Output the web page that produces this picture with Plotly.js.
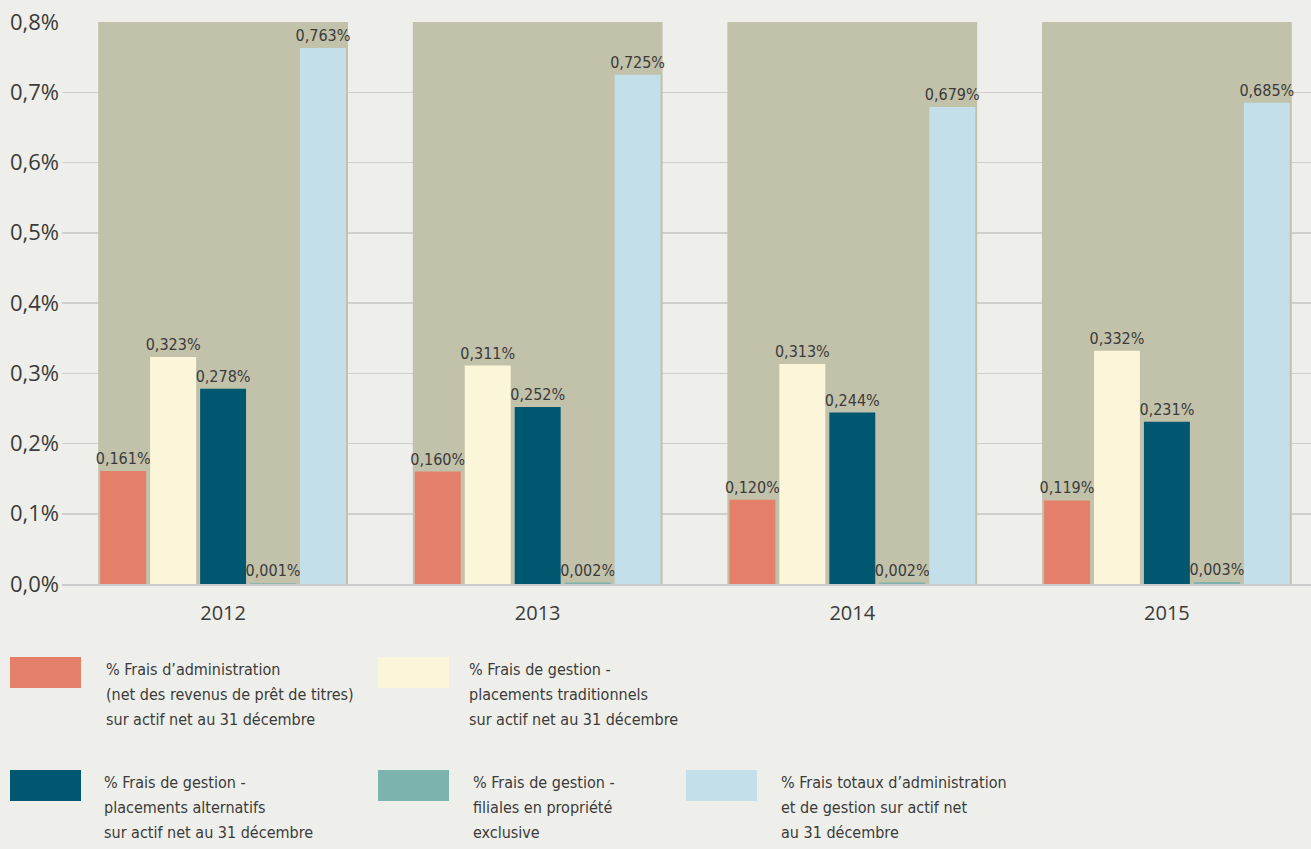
<!DOCTYPE html>
<html>
<head>
<meta charset="utf-8">
<script src="https://cdn.plot.ly/plotly-3.0.1.min.js"></script>
<style>
  html, body { margin: 0; padding: 0; background: #eeeeea; }
  #chart { width: 1311px; height: 849px; }
</style>
</head>
<body>
<div id="chart"></div>
<script>
// ---- data -------------------------------------------------------------------
const YEARS = ['2012', '2013', '2014', '2015'];
const ADMIN = [0.161, 0.160, 0.120, 0.119];      // frais d'administration
const TRAD = [0.323, 0.311, 0.313, 0.332];       // gestion - placements traditionnels
const ALT = [0.278, 0.252, 0.244, 0.231];        // gestion - placements alternatifs
const FILIALES = [0.001, 0.002, 0.002, 0.003];   // gestion - filiales
const TOTAL = [0.763, 0.725, 0.679, 0.685];      // frais totaux
const SERIES = [ADMIN, TRAD, ALT, FILIALES, TOTAL];

const NAMES = [
  '% Frais d’administration<br>(net des revenus de prêt de titres)<br>sur actif net au 31 décembre',
  '% Frais de gestion -<br>placements traditionnels<br>sur actif net au 31 décembre',
  '% Frais de gestion -<br>placements alternatifs<br>sur actif net au 31 décembre',
  '% Frais de gestion -<br>filiales en propriété<br>exclusive',
  '% Frais totaux d’administration<br>et de gestion sur actif net<br>au 31 décembre',
];
const COLORS = ['#e4806a', '#fbf6da', '#005870', '#7db3ae', '#c3dfe9'];

const Y_TICKS = [0, 0.1, 0.2, 0.3, 0.4, 0.5, 0.6, 0.7, 0.8];
const Y_TICK_TEXT = ['0,0%', '0,1%', '0,2%', '0,3%', '0,4%', '0,5%', '0,6%', '0,7%', '0,8%'];

// ---- geometry (px) ----------------------------------------------------------
const W = 1311, H = 849;
const M = { l: 62, r: 0, t: 22, b: 265 };
const PW = W - M.l - M.r, PH = H - M.t - M.b;
const px = (x) => (x - M.l) / PW;
const py = (y) => (M.t + PH - y) / PH;

const BARGAP = 0.206;
const TEXT = '#3b3b3b';
const NARROW = '"DejaVu Sans Condensed", "Liberation Sans Narrow", sans-serif';
const WIDE = '"Open Sans", "Noto Sans", sans-serif';

// legend slots: [rect left, rect top] in px
const LEG_SLOTS = [[10, 657], [378, 657], [10, 770], [378, 770], [686, 770]];
const LEG_TEXT_DX = [95, 90, 93, 94, 94];
const LEG_LINE = 25;

// ---- traces -----------------------------------------------------------------
const traces = SERIES.map((vals, i) => ({
  type: 'bar', x: YEARS, y: vals, name: NAMES[i],
  marker: { color: COLORS[i], line: { width: 0 } },
  text: vals.map((v) => v.toFixed(3).replace('.', ',') + '%'),
  textposition: 'outside', constraintext: 'none', cliponaxis: false,
  textfont: { family: NARROW, size: 16, color: TEXT },
  hoverinfo: 'skip',
}));

// khaki band behind each year group
const shapes = YEARS.map((_, i) => ({
  type: 'rect', xref: 'x', yref: 'y', layer: 'between',
  x0: i - (1 - BARGAP) / 2, x1: i + (1 - BARGAP) / 2, y0: 0, y1: 0.8,
  fillcolor: '#c2c1aa', line: { width: 0 },
}));

// custom legend: swatch + one annotation per text line
const annotations = [];
LEG_SLOTS.forEach(([lx, ty], i) => {
  shapes.push({
    type: 'rect', xref: 'paper', yref: 'paper',
    x0: px(lx), x1: px(lx + 71), y0: py(ty + 31), y1: py(ty),
    fillcolor: COLORS[i], line: { width: 0 },
  });
  NAMES[i].split('<br>').forEach((line, k) => {
    annotations.push({
      xref: 'paper', yref: 'paper', x: px(lx + LEG_TEXT_DX[i]), y: py(ty + 12 + k * LEG_LINE),
      xanchor: 'left', yanchor: 'middle', align: 'left', showarrow: false, borderpad: 0,
      text: line, font: { family: NARROW, size: 16, color: TEXT },
    });
  });
});

const layout = {
  width: W, height: H, margin: M,
  paper_bgcolor: '#eeeeea', plot_bgcolor: '#eeeeea',
  separators: ', ',
  barmode: 'group', bargap: BARGAP, bargroupgap: 0.08,
  showlegend: false,
  xaxis: {
    type: 'category', range: [-0.512, 3.458],
    showgrid: false, zeroline: false,
    showline: true, linecolor: '#cacaca', linewidth: 2,
    ticks: '', ticklabelstandoff: 10,
    tickfont: { family: WIDE, size: 20, color: TEXT },
  },
  yaxis: {
    range: [0, 0.8], tickvals: Y_TICKS, ticktext: Y_TICK_TEXT,
    showgrid: true, gridcolor: '#cfcfcc', gridwidth: 1.5,
    zeroline: false, showline: false, ticks: '', ticklabelstandoff: 2,
    tickfont: { family: WIDE, size: 22, color: TEXT },
  },
  shapes, annotations,
};

Plotly.newPlot('chart', traces, layout, { staticPlot: true, displayModeBar: false });
</script>
</body>
</html>
